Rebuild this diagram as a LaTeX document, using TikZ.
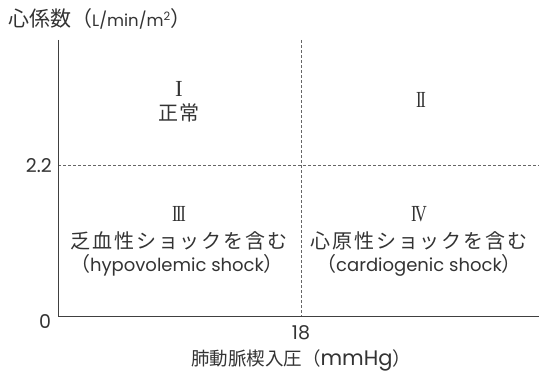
\documentclass[tikz,border=0pt]{standalone}
\usepackage{fontspec}
\usepackage{graphicx}
\setmainfont{Noto Sans CJK JP}
\newfontfamily\jpwide[LetterSpace=9]{Noto Sans CJK JP}
\newfontfamily\latinf{Poppins}
\newfontfamily\romanf{Liberation Serif}
\newcommand{\rnum}[1]{\scalebox{0.72}[1]{#1}}
\begin{document}
\begin{tikzpicture}[x=1pt,y=-1pt,
  txt/.style={text=black!80, inner sep=0pt, font=\jpwide\fontsize{20}{22}\selectfont},
  eng/.style={text=black!80, inner sep=0pt, font=\fontsize{20}{22}\selectfont},
  axlab/.style={text=black!80, inner sep=0pt},
  num/.style={text=black!80, inner sep=0pt, font=\latinf\fontsize{19}{22}\selectfont},
  rn/.style={text=black!80, inner sep=0pt, font=\romanf\fontsize{23}{24}\selectfont},
  axis/.style={draw=black!75, line width=1pt},
  guide/.style={draw=black!60, line width=0.8pt, dash pattern=on 3pt off 2pt}]
\useasboundingbox (0,0) rectangle (539,377);
\coordinate (top) at (58,40);
\coordinate (origin) at (58,317);
\coordinate (xend) at (539,317);
\coordinate (hl) at (58,165);
\coordinate (hr) at (539,165);
\coordinate (vt) at (301,40);
\coordinate (vb) at (301,317);
\draw[guide] (hl) -- (hr);
\draw[guide] (vt) -- (vb);
\draw[axis] (top) -- (origin) -- (xend);
\node[axlab, anchor=west, font=\fontsize{21}{22}\selectfont] (ylab) at (8,19) {心係数（{\latinf\fontsize{16.5}{22}\selectfont L/min/m\textsuperscript{2}}）};
\node[num, anchor=east] (t22) at (52,166) {2.2};
\node[num] (t0) at (45,322) {0};
\node[num] (t18) at (301,333) {18};
\node[axlab, font=\fontsize{18.5}{22}\selectfont] (xlab) at (301,360) {肺動脈楔入圧（{\latinf\fontsize{21}{22}\selectfont mmHg}）};
\node[rn] (q1) at (179,89) {I};
\node[txt] (q1t) at (179,113) {正常};
\node[rn] (q2) at (421,100) {\rnum{I\kern-1.8pt I}};
\node[rn] (q3) at (179,214) {\rnum{I\kern-1.8pt I\kern-1.8pt I}};
\node[txt] (q3t) at (179,241) {乏血性ショックを含む};
\node[eng] (q3e) at (177,265) {（{\latinf\fontsize{18}{22}\selectfont hypovolemic shock}）};
\node[rn] (q4) at (419,214) {\rnum{I\kern-2.5pt V}};
\node[txt] (q4t) at (419,241) {心原性ショックを含む};
\node[eng] (q4e) at (419,265) {（{\latinf\fontsize{18}{22}\selectfont cardiogenic shock}）};
\end{tikzpicture}
\end{document}
